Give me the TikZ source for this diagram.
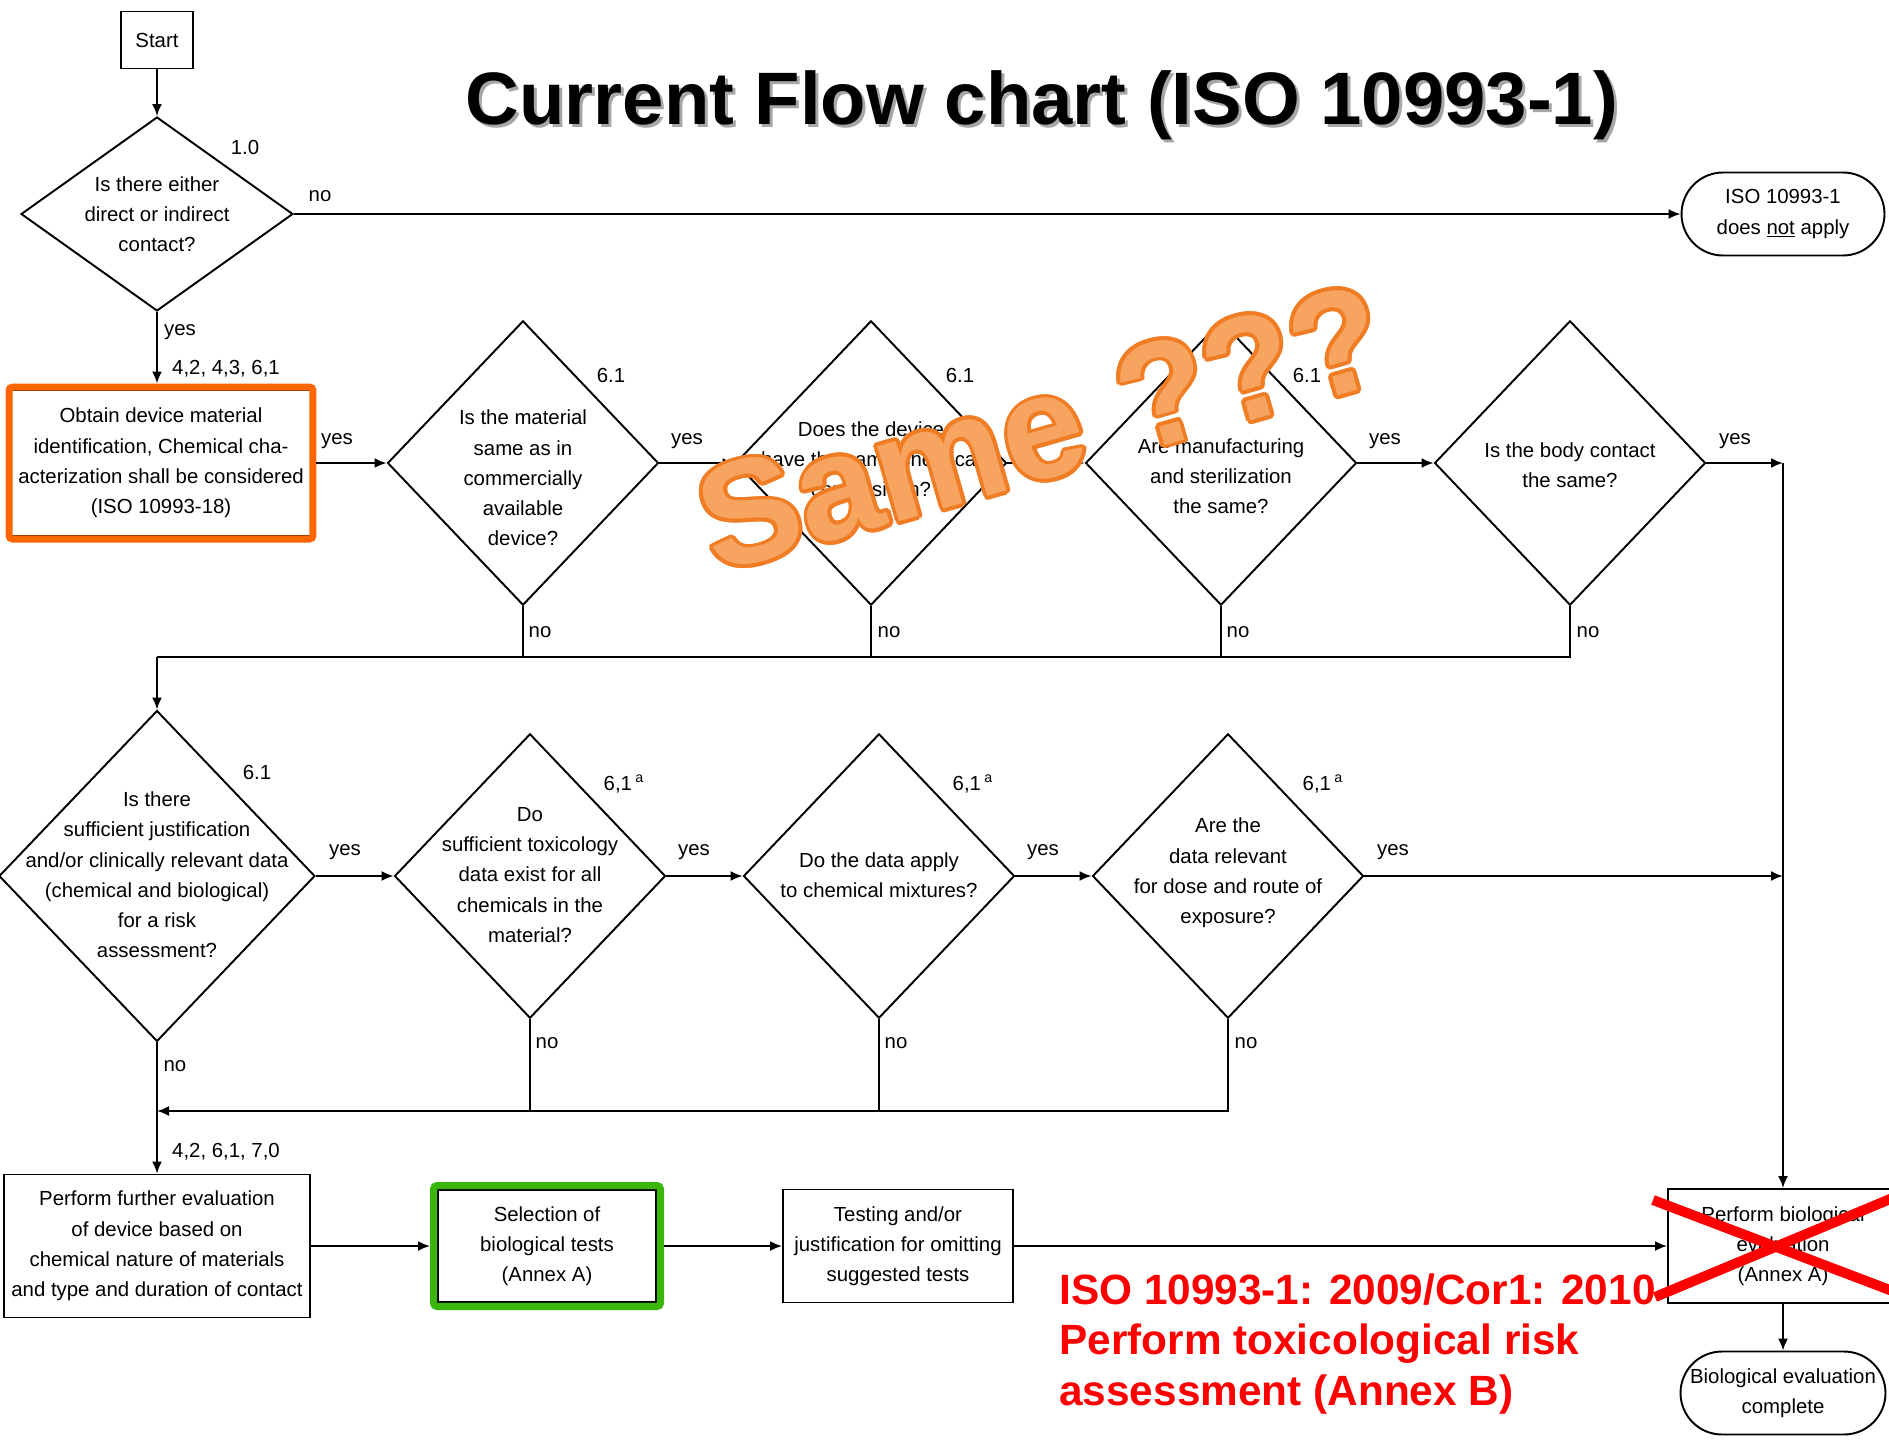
\documentclass[tikz,border=0pt]{standalone}
\usepackage{fontspec}
\setmainfont{Liberation Sans}
\usetikzlibrary{shapes.geometric, arrows.meta}
\definecolor{hlorange}{RGB}{255,102,0}
\definecolor{hlgreen}{RGB}{58,181,12}
\definecolor{samefill}{RGB}{246,164,96}
\definecolor{sameedge}{RGB}{240,124,36}
\newcommand{\chartfont}{\fontsize{11.6}{17.2}\selectfont}
\tikzset{
    line/.style={line width=1.1pt},
    flow/.style={line width=1.1pt, -{Latex[length=0.24cm, width=0.2cm]}},
    decision/.style={diamond, draw, line width=1.1pt, inner sep=0pt,
      minimum width=5.42cm, minimum height=5.69cm},
    process/.style={rectangle, draw, line width=1.1pt, inner sep=0pt,
      align=center, font=\chartfont},
    terminal/.style={rectangle, draw, line width=1.1pt, rounded corners=0.83cm,
      inner sep=0pt, minimum width=4.06cm, minimum height=1.66cm,
      align=center, font=\chartfont},
    qtext/.style={align=center, font=\chartfont, inner sep=0pt},
    tag/.style={font=\chartfont, inner sep=0pt},
    hl/.style={rectangle, draw=#1, line width=4pt, rounded corners=2pt, inner sep=0pt},
    heading/.style={anchor=base, inner sep=0pt, font=\fontsize{42.3}{50}\selectfont\bfseries},
    sametext/.style={anchor=base west, rotate=16, inner sep=0pt,
      font=\fontsize{84}{86}\selectfont\bfseries},
    redtext/.style={anchor=west, align=left, inner sep=0pt, text=red,
      font=\fontsize{24.1}{28.7}\selectfont\bfseries}
}
\begin{document}
\begin{tikzpicture}[x=0.02cm, y=-0.02cm]
  \useasboundingbox (0,0) rectangle (1889,1440);
  % title
  \node[heading, text=black!35] (titleshade) at (1045,127) {Current Flow chart (ISO 10993-1)};
  \node[heading] (title) at (1042,124) {Current Flow chart (ISO 10993-1)};

  % first row
  \node[process, minimum width=1.44cm, minimum height=1.14cm] (start) at (157,40) {Start};
  \node[decision, minimum width=5.44cm, minimum height=3.88cm] (d1) at (157,214) {};
  \node[qtext] (d1text) at (157,214) {Is there either\\direct or indirect\\contact?};
  \node[terminal] (notapply) at (1783,214) {ISO 10993-1\\does \underline{not} apply};
  \node[process, minimum width=6cm, minimum height=2.92cm] (material) at (161,463)
    {Obtain device material\\identification, Chemical cha-\\acterization shall be considered\\(ISO 10993-18)};
  \node[hl=hlorange, minimum width=6.08cm, minimum height=3.04cm] (materialhl) at (161,463) {};
  \node[decision] (d2) at (523,463) {};
  \node[qtext] (d2text) at (523,478) {Is the material\\same as in\\commercially\\available\\device?};
  \node[decision] (d3) at (871,463) {};
  \node[qtext] (d3text) at (871,461) {Does the device\\have the same chemical\\composition?};
  \node[decision] (d4) at (1221,463) {};
  \node[qtext] (d4text) at (1221,476) {Are manufacturing\\and sterilization\\the same?};
  \node[decision] (d5) at (1570,463) {};
  \node[qtext] (d5text) at (1570,465) {Is the body contact\\the same?};

  % second row
  \node[decision, minimum width=6.32cm, minimum height=6.62cm] (d6) at (157,876) {};
  \node[qtext] (d6text) at (157,875) {Is there\\sufficient justification\\and/or clinically relevant data\\(chemical and biological)\\for a risk\\assessment?};
  \node[decision] (d7) at (530,876) {};
  \node[qtext] (d7text) at (530,875) {Do\\sufficient toxicology\\data exist for all\\chemicals in the\\material?};
  \node[decision] (d8) at (879,876) {};
  \node[qtext] (d8text) at (879,875) {Do the data apply\\to chemical mixtures?};
  \node[decision] (d9) at (1228,876) {};
  \node[qtext] (d9text) at (1228,873) {Are the\\data relevant\\for dose and route of\\exposure?};

  % bottom row
  \node[process, minimum width=6.12cm, minimum height=2.86cm] (further) at (157,1246)
    {Perform further evaluation\\of device based on\\chemical nature of materials\\and type and duration of contact};
  \node[process, minimum width=4.36cm, minimum height=2.24cm] (selection) at (547,1246) {Selection of\\biological tests\\(Annex A)};
  \node[hl=hlgreen, minimum width=4.54cm, minimum height=2.42cm] (selectionhl) at (547,1246) {};
  \node[process, minimum width=4.6cm, minimum height=2.26cm] (testing) at (898,1246) {Testing and/or\\justification for omitting\\suggested tests};
  \node[process, minimum width=4.6cm, minimum height=2.28cm] (perform) at (1783,1246) {Perform biological\\evaluation\\(Annex A)};
  \node[terminal, minimum width=4.1cm] (complete) at (1783,1393) {Biological evaluation\\complete};

  \coordinate (row1) at (157,657);
  \coordinate (row2) at (157,1111);
  \coordinate (right1) at (1783,463);
  \coordinate (right2) at (1783,876);

  % connectors
  \draw[flow] (start) -- (d1);
  \draw[flow] (d1) -- (notapply);
  \draw[flow] (d1.south) -- (d1.south |- materialhl.north);
  \draw[flow] (materialhl) -- (d2);
  \draw[flow] (d2) -- (d3);
  \draw[flow] (d3) -- (d4);
  \draw[flow] (d4) -- (d5);
  \draw[flow] (d5) -- (right1);
  \draw[flow] (right1) -- (perform);
  \draw[line] (d5.south) |- (row1);
  \foreach \d in {d2,d3,d4}
    \draw[line] (\d.south) -- (\d.south |- row1);
  \draw[flow] (row1) -- (d6);
  \draw[flow] (d6) -- (d7);
  \draw[flow] (d7) -- (d8);
  \draw[flow] (d8) -- (d9);
  \draw[flow] (d9) -- (right2);
  \draw[flow] (d9.south) |- (row2);
  \foreach \d in {d7,d8}
    \draw[line] (\d.south) -- (\d.south |- row2);
  \draw[flow] (d6) -- (further);
  \draw[flow] (further) -- (selectionhl);
  \draw[flow] (selectionhl) -- (testing);
  \draw[flow] (testing) -- (perform);
  \draw[flow] (perform) -- (complete);

  % clause numbers and answers
  \node[tag] (clause1) at (245,147) {1.0};
  \node[tag] (clause2) at (611,375) {6.1};
  \node[tag] (clause3) at (960,375) {6.1};
  \node[tag] (clause4) at (1307,375) {6.1};
  \node[tag] (clause6) at (257,772) {6.1};
  \node[tag] (clause7) at (624,784) {6,1\,\textsuperscript{a}};
  \node[tag] (clause8) at (973,784) {6,1\,\textsuperscript{a}};
  \node[tag] (clause9) at (1323,784) {6,1\,\textsuperscript{a}};
  \node[tag] (refs1) at (226,369) {4,2, 4,3, 6,1};
  \node[tag] (refs2) at (226,1152) {4,2, 6,1, 7,0};
  \foreach \x/\y [count=\i] in {180/332, 337/441, 687/441, 1036/441, 1385/441,
      1735/441, 345/852, 694/852, 1043/852, 1393/852}
    \node[tag] (yes\i) at (\x,\y) {yes};
  \foreach \x/\y [count=\i] in {320/196, 540/632, 889/632, 1238/632, 1588/632,
      175/1066, 547/1043, 896/1043, 1246/1043}
    \node[tag] (no\i) at (\x,\y) {no};

  % crossed out step and correction
  \draw[red, line width=5.7pt] (1653,1200) -- (1895,1292);
  \draw[red, line width=5.7pt] (1655,1297) -- (1895,1197);
  \node[redtext] (cor) at (1059,1344) {ISO 10993-1: 2009/Cor1: 2010\\Perform toxicological risk\\assessment (Annex B)};

  % remark
  \foreach \a in {0,30,...,330}
    \node[sametext, text=sameedge, shift={(\a:4)}] (rim\a) at (716,574) {Same ???};
  \node[sametext, text=samefill] (same) at (716,574) {Same ???};
\end{tikzpicture}
\end{document}
